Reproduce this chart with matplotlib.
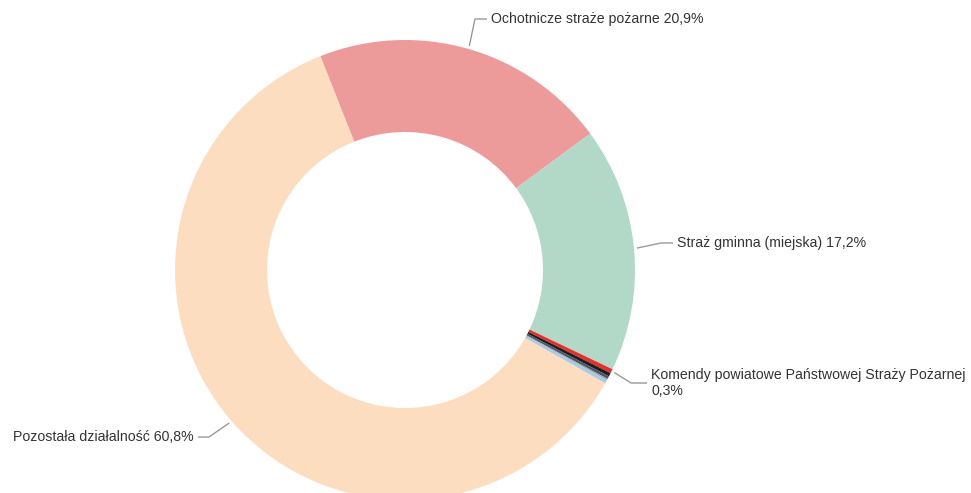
import matplotlib
matplotlib.use("Agg")
import matplotlib.pyplot as plt
import numpy as np

plt.rcParams['font.family'] = ['Liberation Sans', 'DejaVu Sans']

categories = ["Ochotnicze straże pożarne", "Straż gminna (miejska)",
              "Komendy powiatowe Państwowej Straży Pożarnej", "", "", "", "",
              "Pozostała działalność"]
values = [20.9, 17.2, 0.3, 0.25, 0.2, 0.1, 0.25, 60.8]
value_labels = ["20,9%", "17,2%", "0,3%", "", "", "", "", "60,8%"]
colors = ["#ED9A9A", "#B2D8C8", "#E5302B", "#1E1E1E", "#4B5468", "#9AA3AE", "#A9CBE3", "#FCDDBF"]

W, H = 971, 493
fig = plt.figure(figsize=(W / 100, H / 100), dpi=100)
ax = fig.add_axes([0, 0, 1, 1])

cx, cy = 405, H - 270
R, r_in = 230, 138
start = 111.6
wedges, _ = ax.pie(values, colors=colors, startangle=start, counterclock=False,
                   center=(cx, cy), radius=R, frame=True,
                   wedgeprops=dict(width=R - r_in, linewidth=0))
ax.set_xlim(0, W)
ax.set_ylim(0, H)
ax.set_aspect('equal')
ax.axis('off')

line_c = '#999999'
txt_c = '#333333'
fs = 10.2

def mid_angle(i):
    w = wedges[i]
    return np.deg2rad((w.theta1 + w.theta2) / 2)

def edge_pt(i, rr):
    a = mid_angle(i)
    return cx + rr * np.cos(a), cy + rr * np.sin(a)

# label layout: (index, elbow (x,y in pixels from top), text x, text y, ha)
layout = [
    (0, (475, 19), 491, 19, 'left'),
    (1, (661, 243), 677, 243, 'left'),
    (2, (631, 383), 651, 383, 'left'),
    (7, (209, 437), 194, 437, 'right'),
]
for i, (ex, ey), tx, ty, ha in layout:
    sx, sy = edge_pt(i, R + 3)
    ey2 = H - ey
    endx = tx - 4 if ha == 'left' else tx + 4
    ax.plot([sx, ex, endx], [sy, ey2, ey2], color=line_c, lw=1, solid_capstyle='butt')
    if i == 2:
        ax.text(tx, H - 375, categories[i], fontsize=fs, color=txt_c, ha=ha, va='center')
        ax.text(tx, H - 391, value_labels[i], fontsize=fs, color=txt_c, ha=ha, va='center')
    else:
        ax.text(tx, ey2, f"{categories[i]} {value_labels[i]}", fontsize=fs, color=txt_c,
                ha=ha, va='center')

fig.savefig("out.png", dpi=100, facecolor='white')
